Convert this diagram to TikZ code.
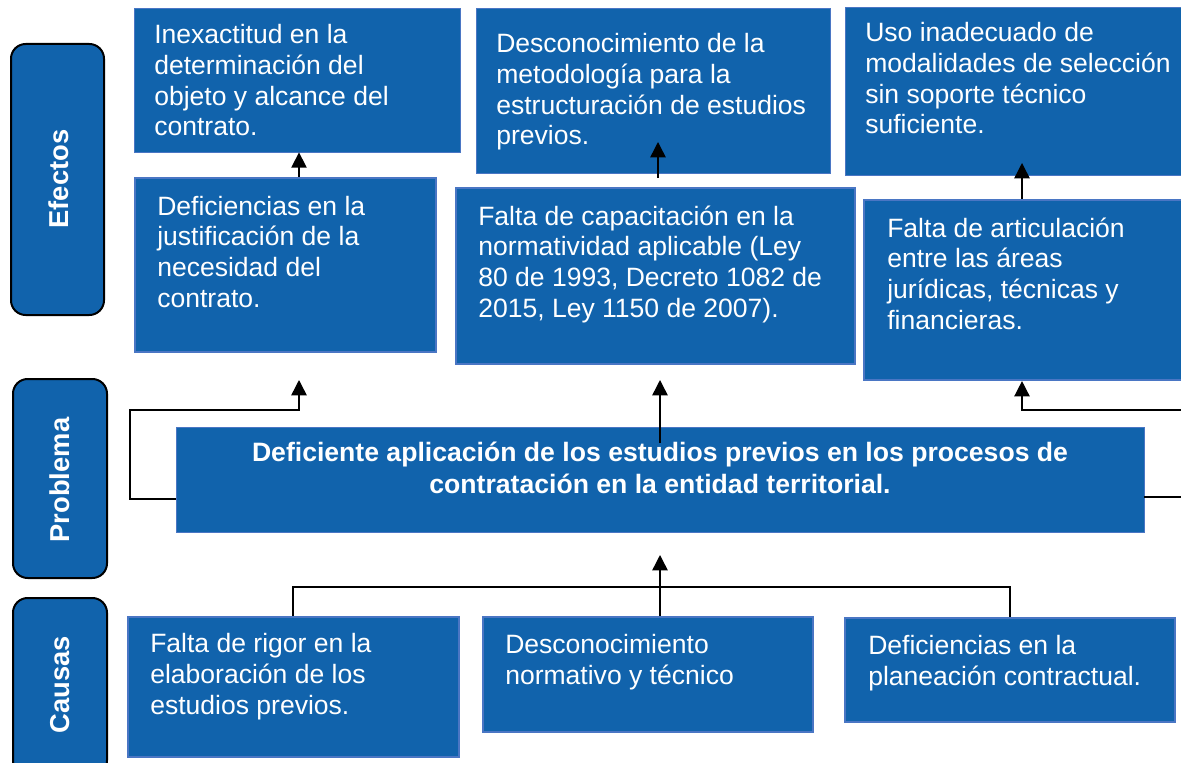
\documentclass[tikz,border=0pt]{standalone}
\usepackage{fontspec}
\setmainfont{Liberation Sans}
\usetikzlibrary{fit,arrows.meta}
\definecolor{bx}{RGB}{17,99,172}
\definecolor{bd}{RGB}{74,118,196}
\begin{document}
\begin{tikzpicture}[x=0.75pt,y=-0.75pt,
  boxa/.style={fill=bx,draw=bd,line width=0.6pt,inner sep=0pt},
  boxb/.style={fill=bx,draw=bd,line width=1.6pt,inner sep=0pt},
  lab/.style={fill=bx,draw=black,line width=1.5pt,rounded corners=11pt,inner sep=0pt},
  labtxt/.style={text=white,font=\fontsize{20.5}{24}\selectfont\bfseries,rotate=90,inner sep=0pt},
  txt/.style={text=white,font=\fontsize{19.9}{23}\selectfont,align=left,inner sep=0pt,anchor=base west},
  ptxt/.style={text=white,font=\fontsize{19.95}{23.3}\selectfont\bfseries,align=center,inner sep=0pt,anchor=base},
  conn/.style={draw=black,line width=1.1pt},
  arr/.style={conn,-{Triangle[length=11.5pt,width=11.5pt]}}]
\useasboundingbox (0,0) rectangle (1181,763);
\clip (0,0) rectangle (1181,763);
\fill[white] (0,0) rectangle (1181,763);

% side labels
\node[lab,fit={(11,44)(104,315)}] (lef) {};
\node[labtxt] (lefT) at (59,179) {Efectos};
\node[lab,fit={(13,379)(107,578)}] (lpr) {};
\node[labtxt] (lprT) at (60,480) {Problema};
\node[lab,fit={(13,598)(107,775)}] (lca) {};
\node[labtxt] (lcaT) at (60,685) {Causas};

% effects, top row
\node[boxa,fit={(134,8)(460,152)}] (e1) {};
\node[boxa,fit={(476,8)(830,173)}] (e2) {};
\node[boxa,fit={(845,7)(1200,175)}] (e3) {};
% effects, second row
\node[boxb,fit={(135,178)(436,352)}] (d1) {};
\node[boxb,fit={(456,188)(855,364)}] (d2) {};
\node[boxb,fit={(864,200)(1200,380)}] (d3) {};
% problem
\node[boxa,fit={(176,427)(1144,532)}] (pr) {};
% causes
\node[boxb,fit={(128,617)(459,757)}] (c1) {};
\node[boxb,fit={(483,617)(813,732)}] (c2) {};
\node[boxb,fit={(845,618)(1175,722)}] (c3) {};

% texts (anchored at the baseline of their last line)
\node[txt] (e1t) at (154,136) {Inexactitud en la\\determinación del\\objeto y alcance del\\contrato.};
\node[txt] (e2t) at (496,145) {Desconocimiento de la\\metodología para la\\estructuración de estudios\\previos.};
\node[txt] (e3t) at (865,134) {Uso inadecuado de\\modalidades de selección\\sin soporte técnico\\suficiente.};
\node[txt] (d1t) at (157,307) {Deficiencias en la\\justificación de la\\necesidad del\\contrato.};
\node[txt] (d2t) at (478,317) {Falta de capacitación en la\\normatividad aplicable (Ley\\80 de 1993, Decreto 1082 de\\2015, Ley 1150 de 2007).};
\node[txt] (d3t) at (887,329) {Falta de articulación\\entre las áreas\\jurídicas, técnicas y\\financieras.};
\node[ptxt] (prt) at (660,493) {Deficiente aplicación de los estudios previos en los procesos de\\contratación en la entidad territorial.};
\node[txt] (c1t) at (150,714) {Falta de rigor en la\\elaboración de los\\estudios previos.};
\node[txt] (c2t) at (505,684) {Desconocimiento\\normativo y técnico};
\node[txt] (c3t) at (868,685) {Deficiencias en la\\planeación contractual.};

% connector end points
\coordinate (aL) at (299,380);
\coordinate (aC) at (660,380);
\coordinate (aP) at (660,555);
\coordinate (sC) at (660,443);
\coordinate (t2) at (658,142);
\coordinate (b2) at (658,178);
\coordinate (t3) at (1022,163);

% effects arrows
\draw[arr] (d1.north -| aL) -- (e1.south -| aL);
\draw[arr] (b2) -- (t2);
\draw[arr] (d3.north -| t3) -- (t3);

% problem to effects
\draw[arr] (sC) -- (aC);
\draw[arr] (pr.west |- 0,499) -- (130,499) -- (130,410) -| (aL);
\draw[arr] (pr.east |- 0,497) -- (1200,497) -- (1200,410) -| (d3.south -| t3);

% causes to problem
\draw[conn] (c1.north -| 293,0) -- (293,587) -| (c3.north -| 1010,0);
\draw[arr] (c2.north -| aP) -- (aP);
\end{tikzpicture}
\end{document}
